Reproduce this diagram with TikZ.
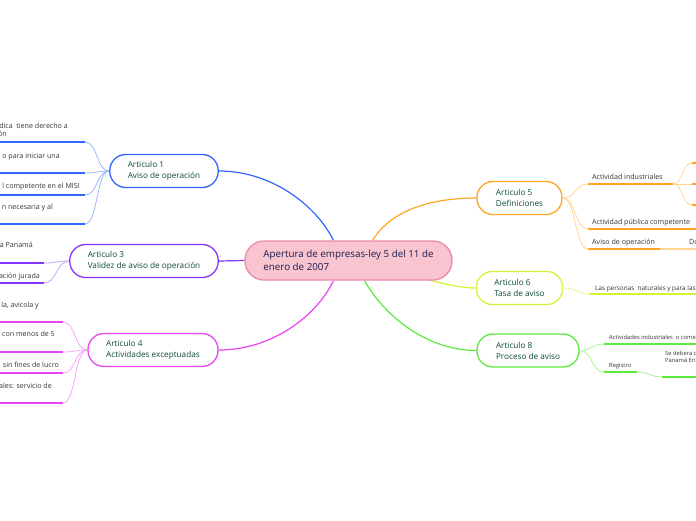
\documentclass[tikz,border=0pt]{standalone}
\usepackage{fontspec}
\setmainfont{Open Sans}
\usetikzlibrary{calc}
\pgfdeclarelayer{bg}
\pgfdeclarelayer{paper}
\pgfsetlayers{paper,bg,main}
\definecolor{cblue}{HTML}{3366FF}
\definecolor{pblue}{HTML}{9FB7FF}
\definecolor{cpurp}{HTML}{8536FF}
\definecolor{ppurp}{HTML}{C4A0FF}
\definecolor{cmag}{HTML}{E844F0}
\definecolor{pmag}{HTML}{F6A6F8}
\definecolor{corg}{HTML}{FFA526}
\definecolor{porg}{HTML}{FFD596}
\definecolor{cyel}{HTML}{D4F23A}
\definecolor{pyel}{HTML}{E8F890}
\definecolor{cgrn}{HTML}{5CEB3A}
\definecolor{pgrn}{HTML}{AAF596}
\definecolor{ttxt}{HTML}{0F4A3A}
\definecolor{ctxt}{HTML}{1C1C4C}
\definecolor{cfill}{HTML}{F8C4D0}
\definecolor{cbord}{HTML}{EB8AAB}
\definecolor{ltxt}{HTML}{333333}
\tikzset{
  art/.style={draw=#1, line width=1.3pt, fill=white, rounded corners=16pt,
    minimum height=33pt, inner xsep=18pt, inner ysep=2pt, align=left,
    text=ttxt, font=\fontsize{8.2}{11}\selectfont},
  mainline/.style={draw=#1, line width=1.2pt},
  subline/.style={draw=#1, line width=0.8pt},
  bar/.style={draw=#1, line width=2pt},
  lbl/.style={inner sep=0pt, text=ltxt, font=\fontsize{7.1}{8}\selectfont},
  tiny/.style={inner sep=0pt, text=ltxt, font=\fontsize{5.8}{6.5}\selectfont},
}
\begin{document}
\begin{tikzpicture}[x=1pt,y=-1pt]
\useasboundingbox (0,0) rectangle (696,520);
\begin{pgfonlayer}{paper}
\fill[white] (0,0) rectangle (696,520);
\end{pgfonlayer}

% central and article nodes
\node[draw=cbord, fill=cfill, line width=1.3pt, rounded corners=19pt,
  minimum width=207pt, minimum height=39pt, inner xsep=17pt, align=left,
  text=ctxt, font=\fontsize{9.8}{12.5}\selectfont] (c) at (348.5,260.5)
  {Apertura de empresas-ley 5 del 11 de\\enero de 2007};
\node[art=cblue, minimum width=108pt] (a1) at (164,171) {Articulo 1\\Aviso de operación};
\node[art=cpurp, minimum width=148pt] (a3) at (144,261) {Articulo 3\\Validez de aviso de operación};
\node[art=cmag, minimum width=130pt] (a4) at (153,350) {Articulo 4\\Actividades exceptuadas};
\node[art=corg, minimum width=85pt] (a5) at (519.5,198) {Articulo 5\\Definiciones};
\node[art=cyel, minimum width=85pt] (a6) at (519.5,288) {Articulo 6\\Tasa de aviso};
\node[art=cgrn, minimum width=102pt] (a8) at (528,350.5) {Articulo 8\\Proceso de aviso};

% main connectors
\begin{pgfonlayer}{bg}
\draw[mainline=cblue] ($(c.north)+(-15,0)$) .. controls +(-18,-36) and +(52,0) .. (a1.east);
\draw[mainline=cpurp] (a3.east) -- (c.west);
\draw[mainline=cmag] ($(c.south)+(-15,0)$) .. controls +(-18,37) and +(52,0) .. (a4.east);
\draw[mainline=corg] ($(c.north)+(24,0)$) .. controls +(18,-29) and +(-48,0) .. (a5.west);
\draw[mainline=cyel] ($(c.center)+(57,14)$) .. controls +(35,8) and +(-18,0) .. (a6.west);
\draw[mainline=cgrn] ($(c.south)+(16,0)$) .. controls +(21,37) and +(-48,0) .. (a8.west);
\end{pgfonlayer}

% ---- Articulo 1 children
\coordinate (b11) at (85,142); \coordinate (b11s) at (-3,142);
\coordinate (b12) at (85,173); \coordinate (b12s) at (-3,173);
\coordinate (b13) at (85,195); \coordinate (b13s) at (-3,195);
\coordinate (b14) at (85,224); \coordinate (b14s) at (-3,224);
\foreach \b in {b11,b12,b13,b14}{
  \draw[subline=pblue] (a1.west) .. controls +(-13,0) and +(13,0) .. (\b);
  \draw[bar=cblue] (\b) -- (\b s);
}
\node[lbl, anchor=base east] (t11a) at (68,128.5) {dica\ \ tiene derecho a};
\node[lbl, anchor=base east] (t11b) at (7,136.5) {ón};
\node[lbl, anchor=base east] (t12) at (60,158.5) {o para iniciar una};
\node[lbl, anchor=base east] (t13) at (80,188.5) {l competente en el MISI};
\node[lbl, anchor=base east] (t14) at (53,209.5) {n necesaria y al};

% ---- Articulo 3 children
\coordinate (b31) at (44,263); \coordinate (b31s) at (-3,263);
\coordinate (b32) at (44,283); \coordinate (b32s) at (-3,283);
\foreach \b in {b31,b32}{
  \draw[subline=ppurp] (a3.west) .. controls +(-13,0) and +(13,0) .. (\b);
  \draw[bar=cpurp] (\b) -- (\b s);
}
\node[lbl, anchor=base east] (t31) at (33,247.5) {a Panamá};
\node[lbl, anchor=base east] (t32) at (40,278) {ación jurada};

% ---- Articulo 4 children
\coordinate (b41) at (63,322); \coordinate (b41s) at (-3,322);
\coordinate (b42) at (63,352); \coordinate (b42s) at (-3,352);
\coordinate (b43) at (63,373); \coordinate (b43s) at (-3,373);
\coordinate (b44) at (63,403); \coordinate (b44s) at (-3,403);
\foreach \b in {b41,b42,b43,b44}{
  \draw[subline=pmag] (a4.west) .. controls +(-13,0) and +(13,0) .. (\b);
  \draw[bar=cmag] (\b) -- (\b s);
}
\node[lbl, anchor=base east] (t41) at (39,307) {la, avicola y};
\node[lbl, anchor=base east] (t42) at (55,336) {con menos de 5};
\node[lbl, anchor=base east] (t43) at (59,367) {sin fines de lucro};
\node[lbl, anchor=base east] (t44) at (52,388) {ales: servicio de};

% ---- Articulo 5 children
\coordinate (b51) at (588,184); \coordinate (b51e) at (673,184);
\coordinate (b52) at (588,229); \coordinate (b52e) at (699,229);
\coordinate (b53) at (588,249); \coordinate (b53e) at (660,249);
\coordinate (b53p) at (699,249);
\foreach \b in {b51,b52,b53}{
  \draw[subline=porg] (a5.east) .. controls +(13,0) and +(-13,0) .. (\b);
  \draw[bar=corg] (\b) -- (\b e);
}
\draw[bar=porg] (b53e) -- (b53p);
\coordinate (s1) at (692,163); \coordinate (s1e) at (699,163);
\coordinate (s2) at (692,184); \coordinate (s2e) at (699,184);
\coordinate (s3) at (692,205); \coordinate (s3e) at (699,205);
\foreach \s in {s1,s2,s3}{
  \draw[subline=porg] (b51e) .. controls +(10,0) and +(-10,0) .. (\s);
  \draw[bar=corg] (\s) -- (\s e);
}
\node[lbl, anchor=base west] (t51) at (592,179) {Actividad industriales};
\node[lbl, anchor=base west] (t52) at (592,224) {Actividad pública competente};
\node[lbl, anchor=base west] (t53) at (592,244) {Aviso de operación};
\node[lbl, anchor=base west] (t54) at (689,244) {Do};

% ---- Articulo 6 child
\coordinate (b61) at (590,294); \coordinate (b61e) at (699,294);
\draw[subline=pyel] (a6.east) .. controls +(14,0) and +(-14,0) .. (b61);
\draw[bar=cyel] (b61) -- (b61e);
\node[tiny, anchor=base west, font=\fontsize{6.4}{7}\selectfont] (t61) at (595,290) {Las personas\ \ naturales y para las pe};

% ---- Articulo 8 children
\coordinate (b81) at (604,344); \coordinate (b81e) at (699,344);
\coordinate (b82) at (604,372); \coordinate (b82e) at (637,372);
\coordinate (b83) at (662,377); \coordinate (b83e) at (699,377);
\foreach \b in {b81,b82}{
  \draw[subline=pgrn] (a8.east) .. controls +(13,0) and +(-13,0) .. (\b);
}
\draw[bar=cgrn] (b81) -- (b81e);
\draw[bar=cgrn] (b82) -- (b82e);
\draw[subline=pgrn] (b82e) .. controls +(12,0) and +(-12,0) .. (b83);
\draw[bar=cgrn] (b83) -- (b83e);
\node[tiny, anchor=base west] (t81) at (609,339) {Actividades industriales\ \ o come};
\node[tiny, anchor=base west] (t82) at (609,367) {Registro};
\node[tiny, anchor=base west, align=left] (t83) at (665,362) {Se debera c\\Panamá En};
\end{tikzpicture}
\end{document}
